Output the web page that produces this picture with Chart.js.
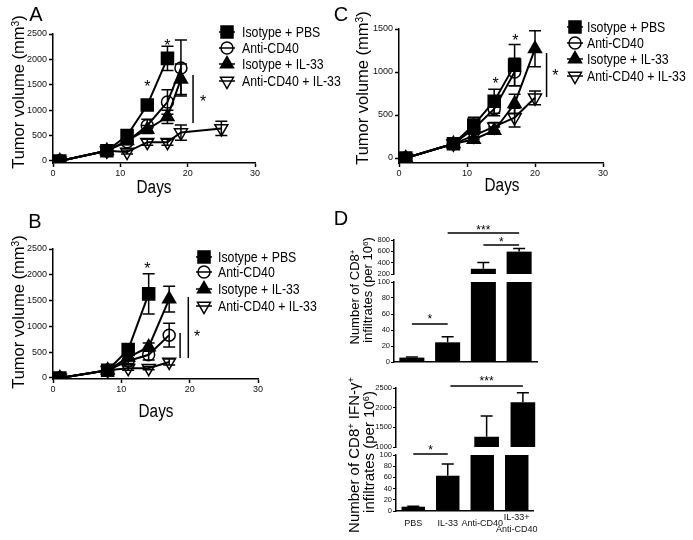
<!DOCTYPE html>
<html><head><meta charset="utf-8">
<script src="https://cdn.jsdelivr.net/npm/chart.js@4.4.1/dist/chart.umd.min.js"></script>
<style>
html,body{margin:0;padding:0;background:#fff;}
#wrap{position:relative;width:693px;height:540px;overflow:hidden;background:#fff;}
canvas{position:absolute;}
.t{position:absolute;white-space:nowrap;color:#000;font-family:"Liberation Sans",Arial,sans-serif;line-height:1;}
.rot{transform:translate(-50%,-50%) rotate(-90deg);}
.ctr{transform:translate(-50%,-50%);}
.nar{transform:translate(-50%,-50%) scaleX(0.85);}
.sp{font-size:0.62em;position:relative;top:-0.5em;}
</style></head><body><div id="wrap">
<canvas id="cA" width="345" height="200" style="left:0;top:0"></canvas>
<canvas id="cB" width="345" height="190" style="left:0;top:225px"></canvas>
<canvas id="cC" width="348" height="200" style="left:345px;top:0"></canvas>
<canvas id="cD1u" width="200" height="65" style="left:345px;top:215px"></canvas>
<canvas id="cD1l" width="200" height="100" style="left:345px;top:272px"></canvas>
<canvas id="cD2u" width="200" height="88" style="left:345px;top:365px"></canvas>
<canvas id="cD2l" width="200" height="95" style="left:345px;top:445px"></canvas>

<div class="t ctr" style="left:36px;top:14px;font-size:20px">A</div>
<div class="t ctr" style="left:35px;top:221px;font-size:20px">B</div>
<div class="t ctr" style="left:341px;top:14px;font-size:20px">C</div>
<div class="t ctr" style="left:341px;top:218px;font-size:20px">D</div>

<div class="t rot" style="left:18px;top:92px;font-size:16.5px">Tumor volume (mm<span class="sp">3</span>)</div>
<div class="t rot" style="left:18px;top:312px;font-size:16.5px">Tumor volume (mm<span class="sp">3</span>)</div>
<div class="t rot" style="left:362px;top:88px;font-size:16.5px">Tumor volume (mm<span class="sp">3</span>)</div>
<div class="t nar" style="left:154px;top:187px;font-size:18px">Days</div>
<div class="t nar" style="left:156px;top:411px;font-size:18px">Days</div>
<div class="t nar" style="left:502px;top:185px;font-size:18px">Days</div>

<div class="t rot" style="left:355px;top:297px;font-size:13px">Number of CD8<span class="sp">+</span></div>
<div class="t rot" style="left:368px;top:290px;font-size:13px">infiltrates (per 10<span class="sp">6</span>)</div>
<div class="t rot" style="left:354px;top:455px;font-size:15px">Number of CD8<span class="sp">+</span> IFN-γ<span class="sp">+</span></div>
<div class="t rot" style="left:369px;top:452px;font-size:15px">infiltrates (per 10<span class="sp">6</span>)</div>
</div>
<script>
// ---------------- DATA ----------------
const seriesNames = ['Isotype + PBS', 'Anti-CD40', 'Isotype + IL-33', 'Anti-CD40 + IL-33'];
const dayTicks = [0, 10, 20, 30];
const volTicksAB = [0, 500, 1000, 1500, 2000, 2500];
const volTicksC = [0, 500, 1000, 1500];

// Panel A
const A_pbs_days = [1, 8, 11, 14, 17];
const A_pbs_vol  = [0, 200, 500, 1100, 2020];
const A_pbs_err  = [0, 30, 60, 90, 240];
const A_cd40_days = [1, 8, 11, 14, 17, 19];
const A_cd40_vol  = [0, 200, 380, 700, 1160, 1830];
const A_cd40_err  = [0, 30, 60, 120, 240, 550];
const A_il33_days = [1, 8, 11, 14, 17, 19];
const A_il33_vol  = [0, 200, 400, 620, 870, 1610];
const A_il33_err  = [0, 30, 50, 80, 130, 300];
const A_combo_days = [1, 8, 11, 14, 17, 19, 25];
const A_combo_vol  = [0, 200, 175, 370, 370, 560, 640];
const A_combo_err  = [0, 30, 40, 60, 60, 150, 140];
const A_sig = [['t', 14, 1535, '*'], ['t', 17, 2343, '*'], ['v', 20.8, 748, 1693], ['t', 22.3, 1240, '*']];

// Panel B
const B_pbs_days = [1, 8, 11, 14];
const B_pbs_vol  = [0, 150, 550, 1630];
const B_pbs_err  = [0, 30, 100, 390];
const B_cd40_days = [1, 8, 11, 14, 17];
const B_cd40_vol  = [0, 150, 330, 450, 830];
const B_cd40_err  = [0, 20, 50, 100, 230];
const B_il33_days = [1, 8, 11, 14, 17];
const B_il33_vol  = [0, 150, 400, 600, 1530];
const B_il33_err  = [0, 20, 60, 80, 250];
const B_combo_days = [1, 8, 11, 14, 17];
const B_combo_vol  = [0, 150, 190, 190, 310];
const B_combo_err  = [0, 20, 40, 30, 60];
const B_sig = [['t', 13.8, 2190, '*'], ['v', 18.6, 388, 872], ['v', 19.8, 388, 1570], ['t', 21.1, 872, '*']];

// Panel C
const C_pbs_days = [1, 8, 11, 14, 17];
const C_pbs_vol  = [0, 165, 385, 660, 1080];
const C_pbs_err  = [0, 20, 90, 140, 240];
const C_cd40_days = [1, 8, 11, 14, 17];
const C_cd40_vol  = [0, 165, 340, 570, 1000];
const C_cd40_err  = [0, 20, 60, 80, 160];
const C_il33_days = [1, 8, 11, 14, 17, 20];
const C_il33_vol  = [0, 165, 215, 320, 630, 1270];
const C_il33_err  = [0, 20, 30, 40, 110, 210];
const C_combo_days = [1, 8, 11, 14, 17, 20];
const C_combo_vol  = [0, 165, 260, 364, 470, 700];
const C_combo_err  = [0, 20, 40, 50, 110, 80];
const C_sig = [['t', 14.2, 907, '*'], ['t', 17.1, 1407, '*'], ['v', 21.7, 709, 1221], ['t', 23, 1000, '*']];

// Panel D
const groups = ['PBS', 'IL-33', 'Anti-CD40', ['IL-33+', 'Anti-CD40']];
const cd8_counts = [5.5, 24.6, 292, 595];
const cd8_err    = [0.6, 7, 112, 55];
const ifng_counts = [7.7, 63, 1262, 2136];
const ifng_err    = [0.6, 21, 525, 245];
const cd8TicksUpper = [200, 400, 600, 800];
const cd8TicksLower = [0, 20, 40, 60, 80, 100];
const ifngTicksUpper = [1000, 1500, 2000, 2500];
const ifngTicksLower = [0, 20, 40, 60, 80, 100];
const D1u_sig = [['h', 1, 3, 923], ['t', 2, 1029, '***'], ['h', 2, 3, 712], ['t', 2.5, 818, '*']];
const D1l_sig = [['h', 0, 1, 47.5], ['t', 0.5, 57.5, '*']];
const D2u_sig = [['h', 1, 3, 2551], ['t', 2, 2754, '***']];
const D2l_sig = [['h', 0, 1, 102], ['t', 0.5, 114, '*']];

// ---------------- STYLE ----------------
const FR = '"Liberation Sans", Arial, sans-serif';
const CLEAR = 'rgba(0,0,0,0)';
const STYLES = [
  {pointStyle: 'rect', pointRadius: 8.5, pointBackgroundColor: '#000', pointRotation: 0},
  {pointStyle: 'circle', pointRadius: 6, pointBackgroundColor: CLEAR, pointRotation: 0},
  {pointStyle: 'triangle', pointRadius: 7.5, pointBackgroundColor: '#000', pointRotation: 0},
  {pointStyle: 'triangle', pointRadius: 7.5, pointBackgroundColor: CLEAR, pointRotation: 180}
];

function drawMarker(ctx, ds, x, y) {
  const r = ds.pointRadius;
  ctx.save();
  ctx.fillStyle = ds.pointBackgroundColor; ctx.strokeStyle = '#000'; ctx.lineWidth = ds.pointBorderWidth;
  ctx.beginPath();
  if (ds.pointStyle === 'rect') { const s = Math.SQRT1_2 * r; ctx.rect(x - s, y - s, 2 * s, 2 * s); }
  else if (ds.pointStyle === 'circle') { ctx.arc(x, y, r, 0, Math.PI * 2); }
  else {
    let rad = (ds.pointRotation || 0) * Math.PI / 180;
    for (let k = 0; k < 3; k++) {
      const px = x + Math.sin(rad) * r, py = y - Math.cos(rad) * r;
      if (k) ctx.lineTo(px, py); else ctx.moveTo(px, py);
      rad += 2 * Math.PI / 3;
    }
    ctx.closePath();
  }
  ctx.fill(); ctx.stroke();
  ctx.restore();
}

function drawErr(chart, o) {
  const ctx = chart.ctx, ys = chart.scales.y, ca = chart.chartArea;
  ctx.save();
  if (o.clip) { ctx.beginPath(); ctx.rect(ca.left, ca.top, ca.right - ca.left, ca.bottom - ca.top); ctx.clip(); }
  ctx.strokeStyle = '#000'; ctx.lineWidth = o.width;
  chart.data.datasets.forEach((ds, i) => {
    if (!ds.err) return;
    const meta = chart.getDatasetMeta(i);
    meta.data.forEach((el, j) => {
      const e = ds.err[j]; if (!e) return;
      const raw = ds.data[j]; const v = (typeof raw === 'object') ? raw.y : raw;
      const x = el.x;
      const y1 = ys.getPixelForValue(v + e);
      const y0 = o.mode === 'both' ? ys.getPixelForValue(v - e) : ys.getPixelForValue(v);
      ctx.beginPath();
      ctx.moveTo(x, y0); ctx.lineTo(x, y1);
      ctx.moveTo(x - o.cap, y1); ctx.lineTo(x + o.cap, y1);
      if (o.mode === 'both') { ctx.moveTo(x - o.cap, y0); ctx.lineTo(x + o.cap, y0); }
      ctx.stroke();
    });
  });
  ctx.restore();
}
const errPlugin = {
  id: 'errbars',
  beforeDatasetsDraw(chart, a, o) { if (o && o.mode === 'both') drawErr(chart, o); },
  afterDatasetsDraw(chart, a, o) { if (o && o.mode === 'up') drawErr(chart, o); }
};
const sigPlugin = {
  id: 'sig',
  afterDatasetsDraw(chart, a, o) {
    if (!o || !o.items) return;
    const ctx = chart.ctx, xs = chart.scales.x, ys = chart.scales.y;
    ctx.save();
    ctx.strokeStyle = '#000'; ctx.fillStyle = '#000'; ctx.lineWidth = o.width;
    o.items.forEach(it => {
      if (it[0] === 'v') {
        const x = xs.getPixelForValue(it[1]);
        ctx.beginPath(); ctx.moveTo(x, ys.getPixelForValue(it[2])); ctx.lineTo(x, ys.getPixelForValue(it[3])); ctx.stroke();
      } else if (it[0] === 'h') {
        const y = ys.getPixelForValue(it[3]);
        ctx.beginPath(); ctx.moveTo(xs.getPixelForValue(it[1]), y); ctx.lineTo(xs.getPixelForValue(it[2]), y); ctx.stroke();
      } else {
        ctx.font = o.size + 'px ' + FR; ctx.textAlign = 'center'; ctx.textBaseline = 'alphabetic';
        ctx.fillText(it[3], xs.getPixelForValue(it[1]), ys.getPixelForValue(it[2]) + 0.58 * o.size);
      }
    });
    ctx.restore();
  }
};
const lgdPlugin = {
  id: 'lgd',
  afterDraw(chart, a, o) {
    if (!o || !o.rows) return;
    const ctx = chart.ctx;
    ctx.save();
    chart.data.datasets.forEach((ds, i) => {
      const y = o.rows[i];
      ctx.strokeStyle = '#000'; ctx.lineWidth = 1.5;
      ctx.beginPath(); ctx.moveTo(o.mx - 8, y); ctx.lineTo(o.mx + 8, y); ctx.stroke();
      drawMarker(ctx, ds, o.mx, y);
      ctx.save();
      ctx.fillStyle = '#000'; ctx.font = o.size + 'px ' + FR; ctx.textBaseline = 'middle'; ctx.textAlign = 'left';
      ctx.translate(o.tx, y + 0.5); ctx.scale(0.82, 1);
      ctx.fillText(ds.label, 0, 0);
      ctx.restore();
    });
    ctx.restore();
  }
};

function lineDS(i, days, vol, err) {
  return Object.assign({
    label: seriesNames[i],
    data: days.map((d, k) => ({x: d, y: vol[k]})),
    err: err,
    borderColor: '#000', borderWidth: 2, showLine: true, tension: 0, fill: false,
    pointBorderColor: '#000', pointBorderWidth: 1.5
  }, STYLES[i]);
}

function axisCommon(tickSize) {
  return {
    grid: {display: true, drawOnChartArea: false, drawTicks: true, tickLength: 4, tickColor: '#000', tickWidth: 1.5},
    border: {display: true, color: '#000', width: 1.5},
    ticks: {font: {family: FR, size: tickSize}, color: '#111', padding: 1, maxRotation: 0, autoSkip: false}
  };
}
const plainNum = v => String(v);

function lineChart(id, datasets, c) {
  const xAx = Object.assign(axisCommon(9), {
    type: 'linear', min: 0, max: 30,
    afterBuildTicks: s => { s.ticks = dayTicks.map(v => ({value: v})); },
    afterFit: s => { s.height = c.xH; }
  });
  xAx.ticks.callback = plainNum;
  const yAx = Object.assign(axisCommon(9), {
    type: 'linear', min: c.ymin, max: c.ymax,
    afterBuildTicks: s => { s.ticks = c.yticks.map(v => ({value: v})); },
    afterFit: s => { s.width = c.yW; }
  });
  yAx.ticks.padding = 2;
  yAx.ticks.callback = plainNum;
  new Chart(document.getElementById(id), {
    type: 'scatter',
    data: {datasets: datasets},
    options: {
      responsive: false, animation: false, devicePixelRatio: 1,
      layout: {padding: {left: 0, right: c.padR, top: c.padT, bottom: 0}, autoPadding: false},
      plugins: {
        legend: {display: false}, tooltip: {enabled: false},
        errbars: {mode: 'both', cap: 6, width: 1.5},
        sig: {items: c.sig, size: 16, width: 1.5},
        lgd: {rows: c.rows, mx: c.mx, tx: c.tx, size: 15}
      },
      scales: {x: xAx, y: yAx}
    },
    plugins: [errPlugin, sigPlugin, lgdPlugin]
  });
}

lineChart('cA', [
  lineDS(0, A_pbs_days, A_pbs_vol, A_pbs_err),
  lineDS(1, A_cd40_days, A_cd40_vol, A_cd40_err),
  lineDS(2, A_il33_days, A_il33_vol, A_il33_err),
  lineDS(3, A_combo_days, A_combo_vol, A_combo_err)
], {ymin: -40, ymax: 2500, yticks: volTicksAB, xH: 37, yW: 53, padR: 90, padT: 34, sig: A_sig,
    rows: [32, 48, 64, 81], mx: 227, tx: 242});

lineChart('cB', [
  lineDS(0, B_pbs_days, B_pbs_vol, B_pbs_err),
  lineDS(1, B_cd40_days, B_cd40_vol, B_cd40_err),
  lineDS(2, B_il33_days, B_il33_vol, B_il33_err),
  lineDS(3, B_combo_days, B_combo_vol, B_combo_err)
], {ymin: -20, ymax: 2500, yticks: volTicksAB, xH: 36, yW: 53, padR: 87, padT: 24, sig: B_sig,
    rows: [32, 47, 64, 81], mx: 204, tx: 218});

lineChart('cC', [
  lineDS(0, C_pbs_days, C_pbs_vol, C_pbs_err),
  lineDS(1, C_cd40_days, C_cd40_vol, C_cd40_err),
  lineDS(2, C_il33_days, C_il33_vol, C_il33_err),
  lineDS(3, C_combo_days, C_combo_vol, C_combo_err)
], {ymin: -58, ymax: 1500, yticks: volTicksC, xH: 37, yW: 54, padR: 90, padT: 29, sig: C_sig,
    rows: [27, 43, 59, 76], mx: 230, tx: 242});

// ---------- Panel D (broken axes) ----------
function barChart(id, values, errs, c) {
  const yAx = Object.assign(axisCommon(7.5), {
    type: 'linear', min: c.ymin, max: c.ymax,
    afterBuildTicks: s => { s.ticks = c.yticks.map(v => ({value: v})); },
    afterFit: s => { s.width = c.yW; }
  });
  yAx.grid.tickLength = 3; yAx.ticks.padding = 1; yAx.grid.tickWidth = 1.2;
  yAx.ticks.callback = plainNum;
  const xAx = Object.assign(axisCommon(9), {
    type: 'category', offset: true, display: c.xShow,
    afterFit: s => { s.height = c.xH; }
  });
  xAx.grid.drawTicks = false;
  xAx.grid.display = false;
  xAx.ticks.display = c.xLabels;
  xAx.ticks.padding = 7;
  xAx.ticks.font = {family: FR, size: 9, lineHeight: 1.3};
  xAx.ticks.align = 'center';
  xAx.ticks.crossAlign = 'center';
  new Chart(document.getElementById(id), {
    type: 'bar',
    data: {labels: groups, datasets: [{data: values, err: errs, backgroundColor: '#000', borderWidth: 0,
      barPercentage: c.bp, categoryPercentage: 1, clip: 0}]},
    options: {
      responsive: false, animation: false, devicePixelRatio: 1,
      layout: {padding: {left: 0, right: c.padR, top: c.padT, bottom: c.padB}, autoPadding: false},
      plugins: {
        legend: {display: false}, tooltip: {enabled: false},
        errbars: {mode: 'up', cap: 6, width: 1.5, clip: true},
        sig: {items: c.sig, size: 12, width: 1.5}
      },
      scales: {x: xAx, y: yAx}
    },
    plugins: [errPlugin, sigPlugin]
  });
}

barChart('cD1u', cd8_counts, cd8_err, {ymin: 200, ymax: 800, yticks: cd8TicksUpper, yW: 49, padR: 8, padT: 25, padB: 6,
  xShow: false, xLabels: false, xH: 0, bp: 0.7, sig: D1u_sig});
barChart('cD1l', cd8_counts, cd8_err, {ymin: 0, ymax: 100, yticks: cd8TicksLower, yW: 49, padR: 8, padT: 10, padB: 10,
  xShow: true, xLabels: false, xH: 0, bp: 0.7, sig: D1l_sig});
barChart('cD2u', ifng_counts, ifng_err, {ymin: 1000, ymax: 2500, yticks: ifngTicksUpper, yW: 51, padR: 4, padT: 23, padB: 6,
  xShow: false, xLabels: false, xH: 0, bp: 0.68, sig: D2u_sig});
barChart('cD2l', ifng_counts, ifng_err, {ymin: 0, ymax: 100, yticks: ifngTicksLower, yW: 51, padR: 4, padT: 10, padB: 0,
  xShow: true, xLabels: true, xH: 29, bp: 0.68, sig: D2l_sig});
</script>
</body></html>
